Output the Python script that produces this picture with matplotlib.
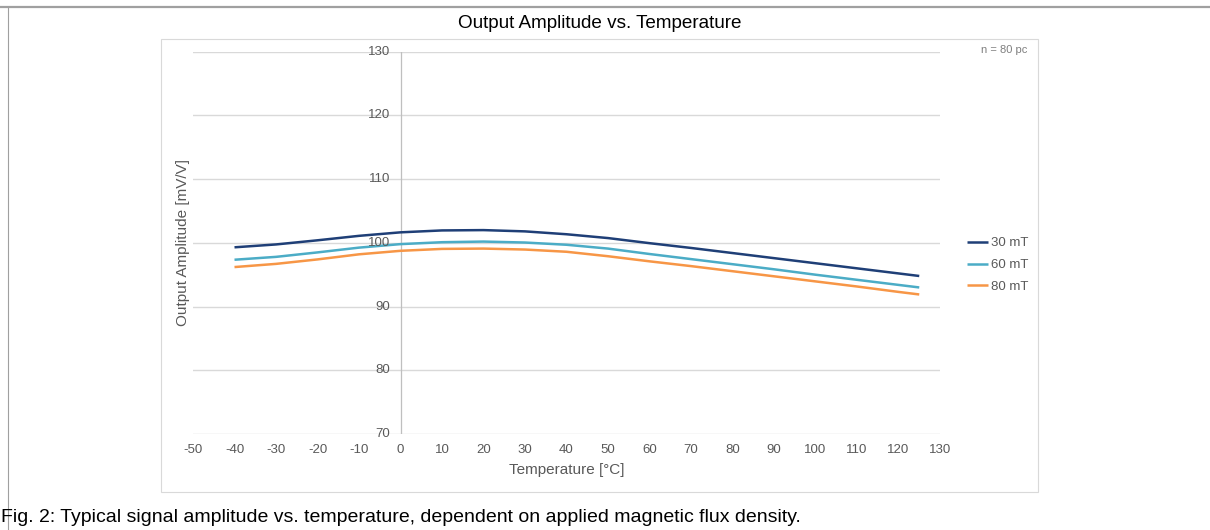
import matplotlib
matplotlib.use("Agg")
import matplotlib.pyplot as plt
from matplotlib.lines import Line2D
from matplotlib.patches import Rectangle

plt.rcParams['font.family'] = ['Liberation Sans', 'DejaVu Sans']
plt.rcParams['axes.unicode_minus'] = False

temperature = [-40, -30, -20, -10, 0, 10, 20, 30, 40, 50, 60, 70, 80, 90, 100, 110, 120, 125]
amp_30mT = [99.3, 99.75, 100.4, 101.1, 101.65, 101.95, 102.0, 101.8, 101.35, 100.75, 99.95,
            99.2, 98.4, 97.6, 96.8, 96.0, 95.2, 94.8]
amp_60mT = [97.35, 97.8, 98.5, 99.25, 99.8, 100.1, 100.2, 100.05, 99.7, 99.1, 98.25,
            97.45, 96.65, 95.85, 95.0, 94.2, 93.4, 93.0]
amp_80mT = [96.2, 96.7, 97.4, 98.2, 98.75, 99.05, 99.1, 98.95, 98.6, 97.9, 97.1,
            96.35, 95.55, 94.75, 93.95, 93.15, 92.3, 91.9]
series_labels = ['30 mT', '60 mT', '80 mT']
series_colors = ['#1f3f77', '#4bacc6', '#f79646']
x_ticks = list(range(-50, 131, 10))
y_ticks = list(range(70, 131, 10))

W, H = 1210, 530
fig = plt.figure(figsize=(W / 100, H / 100), dpi=100)

def fx(px):
    return px / W

def fy(py):
    return 1 - py / H

# outer frame lines
fig.add_artist(Line2D([0, 1], [fy(6.5), fy(6.5)], color='#a0a0a0', lw=1.6, transform=fig.transFigure))
fig.add_artist(Line2D([fx(7.5), fx(7.5)], [fy(6.5), 0], color='#a0a0a0', lw=0.8, transform=fig.transFigure))
# inner chart box
fig.add_artist(Rectangle((fx(161), fy(492)), fx(1038) - fx(161), fy(39) - fy(492),
                         fill=False, edgecolor='#d9d9d9', lw=0.8, transform=fig.transFigure))

ax = fig.add_axes([fx(193), fy(434), fx(940) - fx(193), fy(51.7) - fy(434)])
ax.set_xlim(-50, 130)
ax.set_ylim(70, 130)

for s, c, lab in zip([amp_30mT, amp_60mT, amp_80mT], series_colors, series_labels):
    ax.plot(temperature, s, color=c, lw=1.8, label=lab, solid_capstyle='butt', zorder=3)

ax.set_yticks(y_ticks)
ax.set_xticks(x_ticks)
ax.set_xticklabels([str(v) for v in x_ticks])
ax.grid(axis='y', color='#d9d9d9', lw=1.0, zorder=0)
ax.set_axisbelow(True)
for sp in ['top', 'right', 'bottom', 'left']:
    ax.spines[sp].set_visible(False)
ax.axvline(0, color='#bfbfbf', lw=0.9, zorder=1)
ax.tick_params(axis='both', length=0, labelsize=9.5, labelcolor='#595959')
ax.tick_params(axis='x', pad=7)
ax.set_yticklabels([])
for v in y_ticks:
    ax.text(-2.4, v, str(v), ha='right', va='center', fontsize=9.5, color='#595959')

ax.set_xlabel('Temperature [°C]', fontsize=11, color='#595959', labelpad=5)
fig.text(fx(183), fy(243), 'Output Amplitude [mV/V]', rotation=90, ha='center', va='center',
         fontsize=11, color='#595959')

fig.text(0.5 * (fx(161) + fx(1038)), fy(23), 'Output Amplitude vs. Temperature', ha='center', va='center',
         fontsize=13.6, color='#000000')
fig.text(fx(1027), fy(50), 'n = 80 pc', ha='right', va='center', fontsize=8, color='#7f7f7f')

leg = fig.legend(loc='center left', bbox_to_anchor=(fx(955), fy(265)), frameon=False,
                 fontsize=9.5, handlelength=1.6, handletextpad=0.2, labelspacing=0.72)
for t in leg.get_texts():
    t.set_color('#595959')

fig.text(fx(1), fy(517), 'Fig. 2: Typical signal amplitude vs. temperature, dependent on applied magnetic flux density.',
         ha='left', va='center', fontsize=14, color='#000000')

fig.savefig('out.png', dpi=100, facecolor='white')
